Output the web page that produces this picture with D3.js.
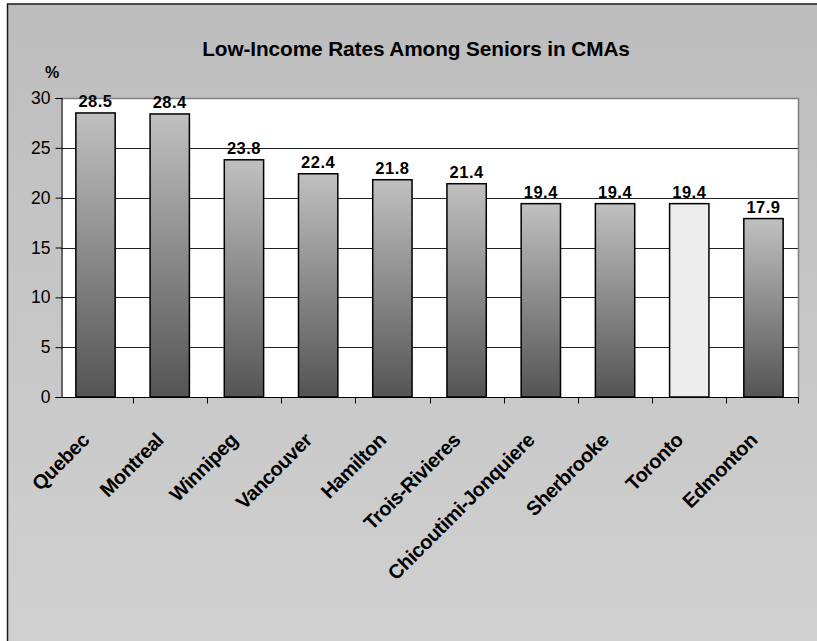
<!DOCTYPE html>
<html>
<head>
<meta charset="utf-8">
<script src="https://cdn.jsdelivr.net/npm/d3@7"></script>
<style>
html,body{margin:0;padding:0;background:#fff;}
svg{display:block;}
text{font-family:"Liberation Sans",Arial,sans-serif;}
</style>
</head>
<body>
<svg id="chart" width="817" height="641"></svg>
<script>
const categories = ["Quebec","Montreal","Winnipeg","Vancouver","Hamilton","Trois-Rivieres","Chicoutimi-Jonquiere","Sherbrooke","Toronto","Edmonton"];
const values = [28.5,28.4,23.8,22.4,21.8,21.4,19.4,19.4,19.4,17.9];
const highlighted = ["Toronto"];
const yTicks = [0,5,10,15,20,25,30];
const title = "Low-Income Rates Among Seniors in CMAs";
const yUnit = "%";

const svg = d3.select("#chart");
const defs = svg.append("defs");

const bg = defs.append("linearGradient").attr("id","bgGrad").attr("x1",0).attr("y1",0).attr("x2",0).attr("y2",1);
bg.append("stop").attr("offset","0%").attr("stop-color","#bdbdbd");
bg.append("stop").attr("offset","100%").attr("stop-color","#d1d1d1");

const barGrad = defs.append("linearGradient").attr("id","barGrad").attr("x1",0).attr("y1",0).attr("x2",0).attr("y2",1);
barGrad.append("stop").attr("offset","0%").attr("stop-color","#c0c0c0");
barGrad.append("stop").attr("offset","100%").attr("stop-color","#545454");

const filt = defs.append("filter").attr("id","speckle").attr("x",0).attr("y",0).attr("width","100%").attr("height","100%");
filt.append("feTurbulence").attr("type","fractalNoise").attr("baseFrequency","0.3").attr("numOctaves","2").attr("seed","3").attr("result","noise");
filt.append("feColorMatrix").attr("in","noise").attr("type","matrix")
  .attr("values","0 0 0 0 0.85  0 0 0 0 0.85  0 0 0 0 0.85  0 0 0 -1.6 1.0").attr("result","spots");
filt.append("feComposite").attr("in","spots").attr("in2","SourceGraphic").attr("operator","in").attr("result","clipped");
const fm = filt.append("feMerge");
fm.append("feMergeNode").attr("in","SourceGraphic");
fm.append("feMergeNode").attr("in","clipped");

// background & frame
svg.append("rect").attr("x",7.5).attr("y",4).attr("width",830).attr("height",660)
  .attr("fill","url(#bgGrad)").attr("stroke","#1a1a1a").attr("stroke-width",1.5);

const plot = {left:61, right:798, top:98, bottom:397};

const x = d3.scaleBand().domain(categories).range([plot.left, plot.right]).paddingInner(0.47).paddingOuter(0.2);
const y = d3.scaleLinear().domain([0,30]).range([plot.bottom, plot.top]);

svg.append("rect").attr("x",plot.left).attr("y",plot.top)
  .attr("width",plot.right-plot.left).attr("height",plot.bottom-plot.top).attr("fill","#fff");

// gridlines
svg.append("g").selectAll("line").data(yTicks.filter(t=>t>0 && t<30)).join("line")
  .attr("x1",plot.left).attr("x2",plot.right)
  .attr("y1",d=>Math.round(y(d))+0.5).attr("y2",d=>Math.round(y(d))+0.5)
  .attr("stroke","#222").attr("stroke-width",1);

// plot border top/right
svg.append("path").attr("d",`M${plot.left},${plot.top+0.5}H${plot.right+0.5}V${plot.bottom}`)
  .attr("fill","none").attr("stroke","#808080").attr("stroke-width",1.5);

// bars
const barData = categories.map((c,i)=>({c,v:values[i]}));
const bars = svg.append("g");
bars.selectAll("rect.fill").data(barData).join("rect").attr("class","fill")
  .attr("x",d=>x(d.c)).attr("y",d=>y(d.v))
  .attr("width",x.bandwidth()).attr("height",d=>y(0)-y(d.v))
  .attr("fill",d=>highlighted.includes(d.c) ? "#ededed" : "url(#barGrad)")
  .attr("filter",d=>highlighted.includes(d.c) ? "url(#speckle)" : null);
bars.selectAll("rect.edge").data(barData).join("rect").attr("class","edge")
  .attr("x",d=>x(d.c)).attr("y",d=>y(d.v))
  .attr("width",x.bandwidth()).attr("height",d=>y(0)-y(d.v))
  .attr("fill","none").attr("stroke","#000").attr("stroke-width",1.5);

// value labels
svg.append("g").selectAll("text").data(barData).join("text")
  .attr("x",d=>x(d.c)+x.bandwidth()/2).attr("y",d=>y(d.v)-6)
  .attr("text-anchor","middle").attr("font-size","16.5px").attr("font-weight","bold")
  .attr("letter-spacing","0.5px").attr("fill","#000")
  .text(d=>d.v.toFixed(1));

// y axis
const yAxis = d3.axisLeft(y).tickValues(yTicks).tickSize(6).tickPadding(5).tickFormat(d3.format("d"));
const yg = svg.append("g").attr("transform",`translate(${plot.left+0.5},0)`).call(yAxis);
yg.select(".domain").attr("stroke","#000").attr("stroke-width",1.2);
yg.selectAll(".tick line").attr("stroke","#000");
yg.selectAll(".tick text").attr("font-size","17.5px").attr("fill","#000")
  .attr("font-family","'Liberation Sans',Arial,sans-serif");

// x axis
const xg = svg.append("g").attr("transform",`translate(0,${plot.bottom+0.5})`);
xg.append("line").attr("x1",plot.left).attr("x2",plot.right+0.5).attr("y1",0).attr("y2",0)
  .attr("stroke","#000").attr("stroke-width",1.2);
const boundaries = categories.map(c=>x(c)-x.step()*x.paddingInner()/2).concat([plot.right]);
xg.selectAll("line.tk").data(boundaries.slice(1)).join("line").attr("class","tk")
  .attr("x1",d=>Math.round(d)+0.5).attr("x2",d=>Math.round(d)+0.5).attr("y1",0).attr("y2",6)
  .attr("stroke","#000");

xg.selectAll("text").data(categories).join("text")
  .attr("transform",d=>`translate(${x(d)+x.bandwidth()/2-5},${44}) rotate(-45)`)
  .attr("text-anchor","end").attr("font-size","20px").attr("font-weight","bold").attr("fill","#000")
  .attr("letter-spacing","-0.4px")
  .text(d=>d);

// title
svg.append("text").attr("x",416).attr("y",56).attr("text-anchor","middle")
  .attr("font-size","20.8px").attr("font-weight","bold").attr("letter-spacing","-0.1px").attr("fill","#000")
  .text(title);

svg.append("text").attr("x",52).attr("y",78).attr("text-anchor","middle")
  .attr("font-size","16px").attr("font-weight","bold").attr("fill","#000")
  .text(yUnit);
</script>
</body>
</html>
